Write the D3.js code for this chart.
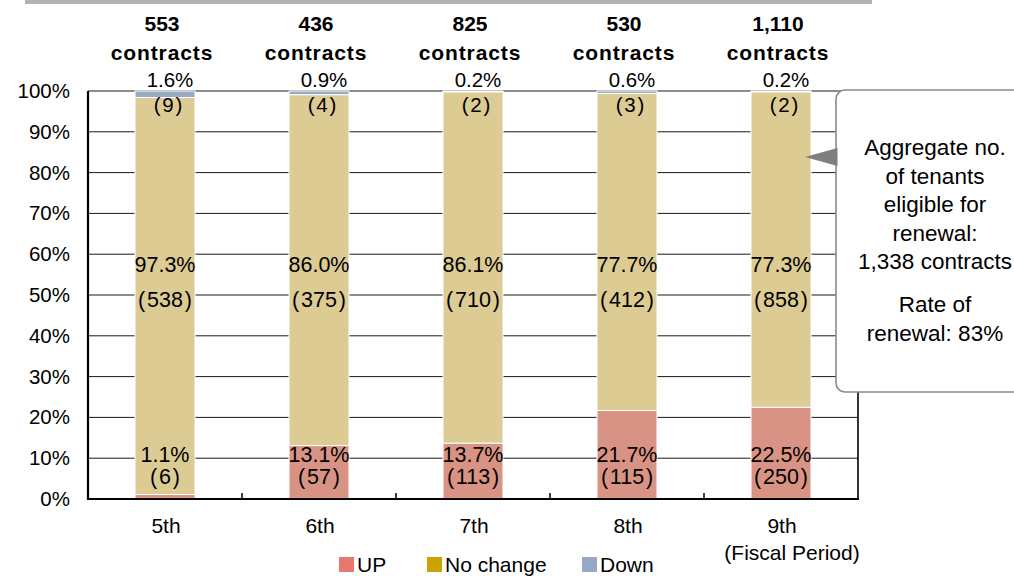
<!DOCTYPE html>
<html>
<head>
<meta charset="utf-8">
<script src="https://cdn.jsdelivr.net/npm/d3@7/dist/d3.min.js"></script>
<style>
  html, body { margin: 0; padding: 0; background: #fff; }
  svg { display: block; font-family: Arial, "Liberation Sans", sans-serif; }
</style>
</head>
<body>
<svg id="chart" width="1014" height="576"></svg>
<script>
// Fiscal periods and total contracts renewed in each
const periods = ["5th", "6th", "7th", "8th", "9th"];
const totals = [553, 436, 825, 530, 1110];

// Share of renewals (%) by rent outcome
const upPct = [1.1, 13.1, 13.7, 21.7, 22.5];
const noChangePct = [97.3, 86.0, 86.1, 77.7, 77.3];
const downPct = [1.6, 0.9, 0.2, 0.6, 0.2];

// Number of contracts by rent outcome
const upCount = [6, 57, 113, 115, 250];
const noChangeCount = [538, 375, 710, 412, 858];
const downCount = [9, 4, 2, 3, 2];

const yTicks = [0, 10, 20, 30, 40, 50, 60, 70, 80, 90, 100];
const seriesNames = ["UP", "No change", "Down"];
const barColors = ["#d99384", "#ddcb94", "#98a9c2"];
const legendColors = ["#e8786d", "#c9a402", "#97a9c4"];

const calloutLines = [
  ["Aggregate no.", "of tenants", "eligible for", "renewal:", "1,338 contracts"],
  ["Rate of", "renewal: 83%"]
];

const svg = d3.select("#chart");
const plot = { left: 88, right: 858, top: 91, bottom: 499 };

const x = d3.scaleBand()
  .domain(periods)
  .range([plot.left, plot.right])
  .paddingInner(94 / 154)
  .paddingOuter(94 / 308);

const y = d3.scaleLinear().domain([0, 100]).range([plot.bottom, plot.top]);

const rows = periods.map((p, i) => ({
  period: p,
  UP: upPct[i],
  "No change": noChangePct[i],
  Down: downPct[i]
}));
const stacked = d3.stack().keys(seriesNames)(rows);

// Grey rule along the top
svg.append("rect")
  .attr("x", 25).attr("y", 0).attr("width", 847).attr("height", 4)
  .attr("fill", "#b3b3b3");

// Horizontal gridlines
svg.append("g")
  .selectAll("line")
  .data(yTicks.filter(t => t > 0))
  .join("line")
  .attr("x1", plot.left).attr("x2", plot.right)
  .attr("y1", d => y(d)).attr("y2", d => y(d))
  .attr("stroke", "#1a1a1a").attr("stroke-width", 1);

// Y axis labels
const yAxis = d3.axisLeft(y)
  .tickValues(yTicks)
  .tickFormat(d => d + "%")
  .tickSize(0)
  .tickPadding(18);
const yg = svg.append("g").attr("transform", `translate(${plot.left},0)`).call(yAxis);
yg.select(".domain").remove();
yg.selectAll("text")
  .attr("font-size", 20.5)
  .attr("font-family", "Arial, 'Liberation Sans', sans-serif")
  .attr("fill", "#000");

// Stacked bars
svg.append("g")
  .selectAll("g")
  .data(stacked)
  .join("g")
  .attr("fill", (d, i) => barColors[i])
  .selectAll("rect")
  .data(d => d)
  .join("rect")
  .attr("x", d => x(d.data.period))
  .attr("width", x.bandwidth())
  .attr("y", d => y(d[1]))
  .attr("height", d => y(d[0]) - y(d[1]))
  .attr("stroke", "#fff")
  .attr("stroke-width", 1);

// Axis frame
const frame = svg.append("g").attr("stroke", "#000");
frame.append("line")
  .attr("x1", plot.left).attr("x2", plot.left)
  .attr("y1", plot.top).attr("y2", plot.bottom + 1)
  .attr("stroke-width", 2.2);
frame.append("line")
  .attr("x1", plot.left - 1).attr("x2", plot.right + 1)
  .attr("y1", plot.bottom).attr("y2", plot.bottom)
  .attr("stroke-width", 2.2);
frame.append("line")
  .attr("x1", plot.right).attr("x2", plot.right)
  .attr("y1", plot.top).attr("y2", plot.bottom)
  .attr("stroke-width", 1.6);

// Category boundary ticks
const bounds = periods.slice(0, -1).map(p => x(p) + x.bandwidth() / 2 + x.step() / 2);
frame.selectAll("line.tick")
  .data(bounds)
  .join("line")
  .attr("class", "tick")
  .attr("x1", d => d).attr("x2", d => d)
  .attr("y1", plot.bottom).attr("y2", plot.bottom - 6)
  .attr("stroke-width", 1.5);

const cx = p => x(p) + x.bandwidth() / 2;
const fmt = d3.format(",");
const pct = v => v.toFixed(1) + "%";
const count = n => `(\u200A${n}\u200A)`;
const labels = svg.append("g").attr("fill", "#000").attr("text-anchor", "middle");

function label(text, px, cy, size = 21.5) {
  labels.append("text")
    .attr("x", px).attr("y", cy)
    .attr("dy", "0.36em")
    .attr("font-size", size)
    .text(text);
}

periods.forEach((p, i) => {
  const c = cx(p);
  // Totals above each bar
  labels.append("text")
    .attr("x", c - 3).attr("y", 31)
    .attr("font-size", 21).attr("font-weight", "bold")
    .text(fmt(totals[i]));
  labels.append("text")
    .attr("x", c - 3).attr("y", 60)
    .attr("font-size", 21).attr("font-weight", "bold")
    .attr("letter-spacing", 0.9)
    .text("contracts");

  // Down: share above the bar, count just under the top
  label(pct(downPct[i]), c + 5, 80, 20.5);
  label(count(downCount[i]), c + 3, 105, 20.5);

  // No change
  label(pct(noChangePct[i]), c, y(57.5));
  label(count(noChangeCount[i]), c, y(49));

  // UP
  label(pct(upPct[i]), c, y(11));
  label(count(upCount[i]), c, y(5.5));

  // Period labels
  label(p, c + 1, 525, 21);
});

label("(Fiscal Period)", 792, 552, 21);

// Legend
const legendX = [339, 427, 582];
const legend = svg.append("g");
seriesNames.forEach((name, i) => {
  legend.append("rect")
    .attr("x", legendX[i]).attr("y", 557)
    .attr("width", 15).attr("height", 15)
    .attr("fill", legendColors[i]);
  legend.append("text")
    .attr("x", legendX[i] + 18).attr("y", 572)
    .attr("font-size", 21).attr("fill", "#000")
    .text(name);
});

// Callout with pointer
const callout = svg.append("g");
callout.append("rect")
  .attr("x", 836).attr("y", 90)
  .attr("width", 210).attr("height", 302)
  .attr("rx", 9).attr("ry", 9)
  .attr("fill", "#fff")
  .attr("stroke", "#8a8a8a").attr("stroke-width", 1.6);
callout.append("path")
  .attr("d", "M805,157 L837.5,148 L837.5,166 Z")
  .attr("fill", "#7f7f7f");

const ct = callout.append("text")
  .attr("text-anchor", "middle")
  .attr("font-size", 22.5)
  .attr("fill", "#000");
let lineY = 155;
calloutLines.forEach((block, bi) => {
  if (bi > 0) lineY += 14.5;
  block.forEach(line => {
    ct.append("tspan").attr("x", 935).attr("y", lineY).text(line);
    lineY += 28.5;
  });
});
</script>
</body>
</html>
